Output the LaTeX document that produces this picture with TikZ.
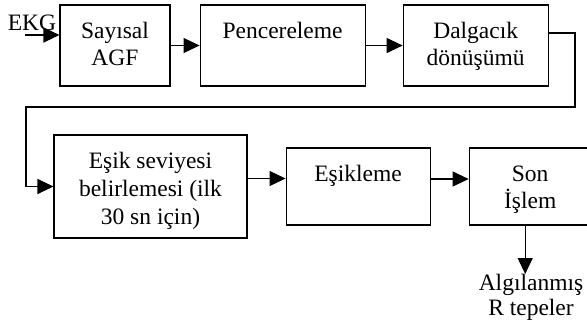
\documentclass[tikz,border=0pt]{standalone}
\usepackage{fontspec}
\setmainfont{Liberation Serif}
\usetikzlibrary{positioning,arrows.meta}

\begin{document}
\begin{tikzpicture}[x=1pt, y=-1pt, node distance=38pt,
  every node/.style={font=\fontsize{23.5}{27}\selectfont},
  blok/.style={rectangle, draw, line width=1.1pt, minimum height=81pt, inner sep=0pt},
  yazi/.style={anchor=north, align=center, inner sep=0pt, yshift=-18pt},
  ok/.style={-{Triangle[length=16pt,width=15pt]}, line width=1.1pt}]
\useasboundingbox (0,0) rectangle (587,322);

\node[blok, minimum width=110pt] (sayisal) at (115,45.5) {};
\node[blok, minimum width=165pt, right=29pt of sayisal] (pencere) {};
\node[blok, minimum width=145pt, right=37pt of pencere] (dalgacik) {};
\node[blok, minimum width=193pt, minimum height=103pt] (seviye) at (150.5,186.5) {};
\node[blok, minimum width=144pt, minimum height=77pt, right=of seviye] (esikleme) {};
\node[blok, minimum width=122pt, minimum height=77pt, right=of esikleme] (sonislem) {};

\node[yazi] (sayisalyazi) at (sayisal.north) {Sayısal\\AGF};
\node[yazi] (penceryazi) at (pencere.north) {Pencereleme};
\node[yazi] (dalgacikyazi) at (dalgacik.north) {Dalgacık\\dönüşümü};
\node[yazi, font=\fontsize{23.5}{28}\selectfont] (seviyeyazi) at (seviye.north) {Eşik seviyesi\\belirlemesi (ilk\\30 sn için)};
\node[yazi] (esiklemeyazi) at (esikleme.north) {Eşikleme};
\node[yazi] (sonislemyazi) at (sonislem.north) {Son\\İşlem};

\node[inner sep=0pt] (ekg) at (32,23) {EKG};
\coordinate (giris) at (25,35);
\node[align=center, anchor=north, inner sep=0pt, font=\fontsize{23.5}{25}\selectfont] (cikis) at (531,274) {Algılanmış\\R tepeler};

\draw[ok] (giris) -- (giris -| sayisal.west);
\draw[ok] (sayisal) -- (pencere);
\draw[ok] (pencere) -- (dalgacik);
\draw[ok] ([yshift=12.5pt]dalgacik.east) -| (575,107) -- (26,107) |- (seviye.west);
\draw[ok] ([yshift=8pt]seviye.east) -- ([yshift=8pt]seviye.east -| esikleme.west);
\draw[ok] ([yshift=7.5pt]esikleme.east) -- ([yshift=7.5pt]esikleme.east -| sonislem.west);
\draw[ok] ([xshift=-5pt]sonislem.south) -- ([xshift=-5pt]sonislem.south |- cikis.north);
\end{tikzpicture}
\end{document}
